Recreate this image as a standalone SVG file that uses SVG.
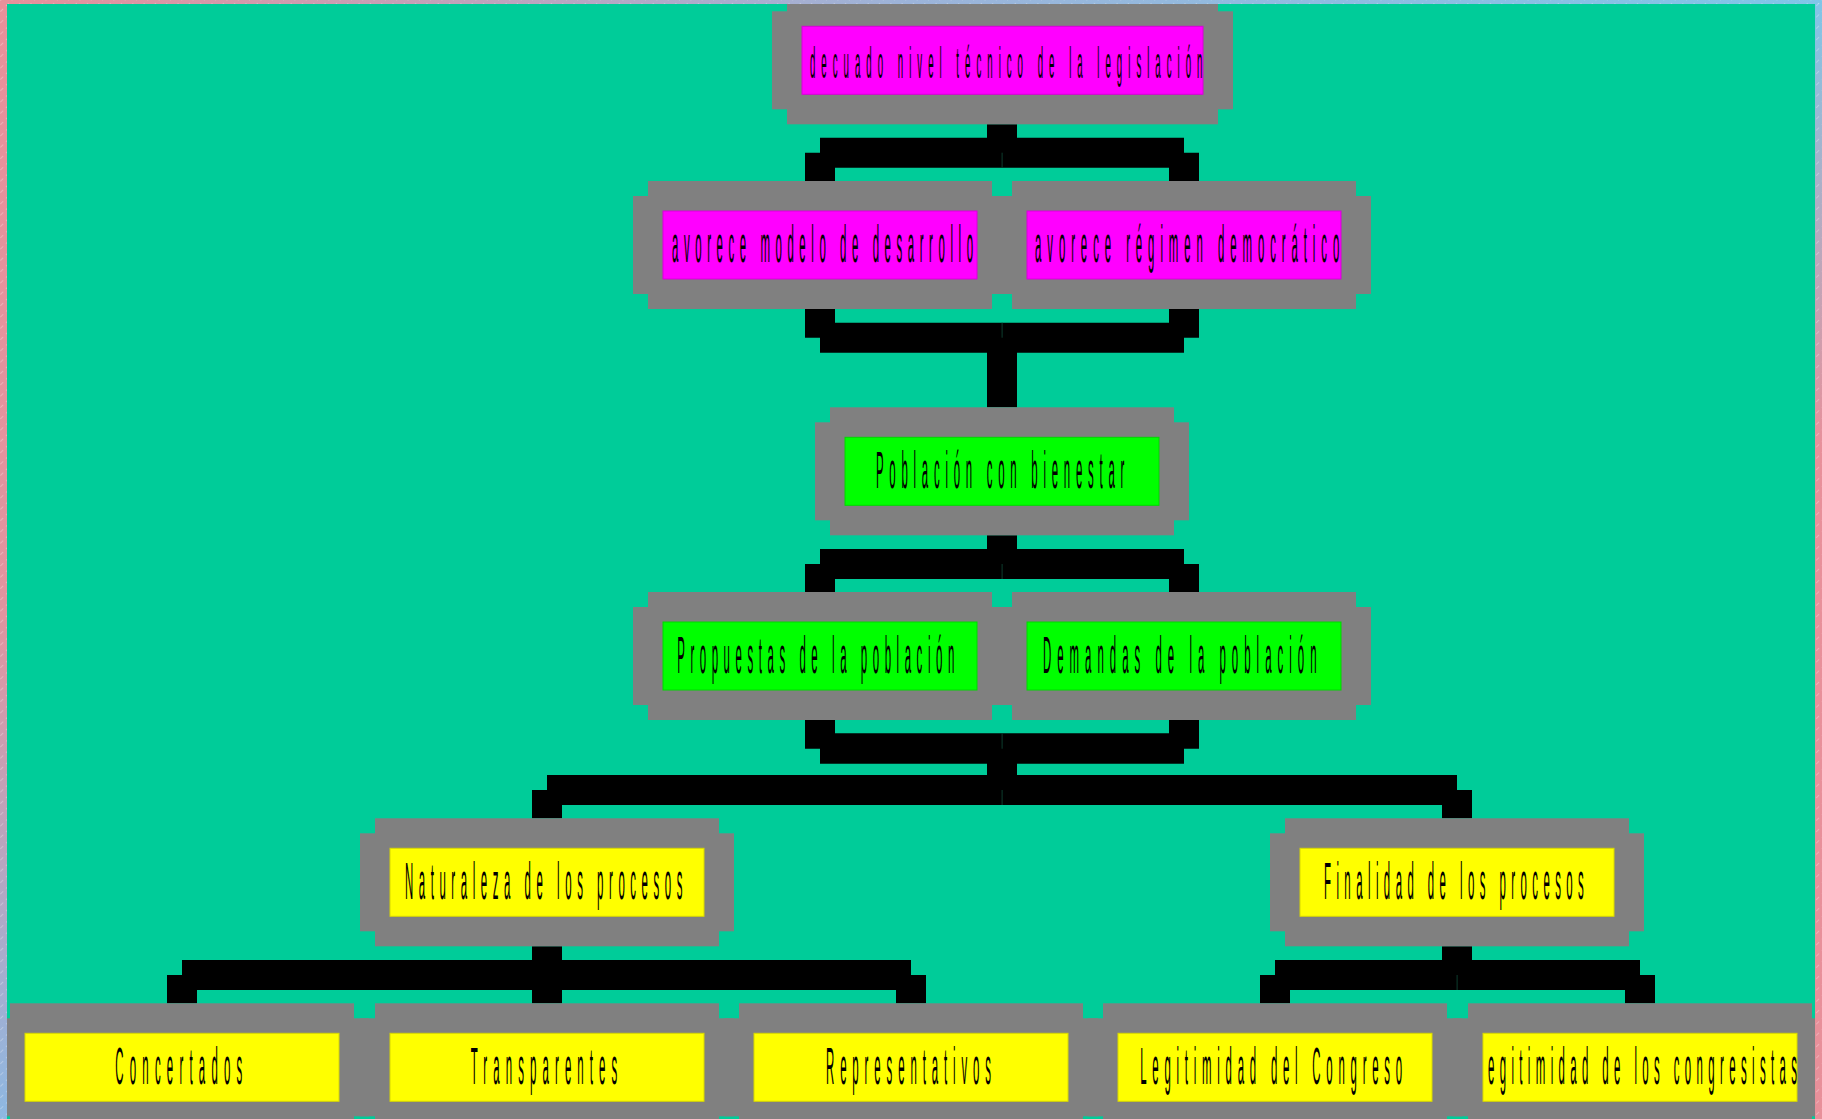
<svg xmlns="http://www.w3.org/2000/svg" width="1822" height="1119" viewBox="0 0 1822 1119">
<defs>
<style>
.body,.ext{fill:#808080}
.mag{fill:#FF00FF;stroke:#D800D8;stroke-width:1}
.grn{fill:#00FF00;stroke:#00D800;stroke-width:1}
.yel{fill:#FFFF00;stroke:#D8D800;stroke-width:1}
.lbl{font-family:"Liberation Sans",Arial,sans-serif;font-weight:normal;font-size:52px;fill:#000}
.conn{fill:#000}
.seam{fill:#0d3d2e}
</style>
<linearGradient id="gTop" x1="0" y1="0" x2="1" y2="0">
<stop offset="0" stop-color="#E8909A"/>
<stop offset="0.5" stop-color="#9CB4DA"/>
<stop offset="1" stop-color="#80C6E8"/>
</linearGradient>
<linearGradient id="gLeft" x1="0" y1="0" x2="0" y2="1">
<stop offset="0" stop-color="#E8909A"/>
<stop offset="0.55" stop-color="#E0949F"/>
<stop offset="1" stop-color="#8DB8E2"/>
</linearGradient>
<linearGradient id="gRight" x1="0" y1="0" x2="0" y2="1">
<stop offset="0" stop-color="#80C6E8"/>
<stop offset="0.4" stop-color="#E8909A"/>
<stop offset="1" stop-color="#E8909A"/>
</linearGradient>
<pattern id="hatch" width="8" height="8" patternUnits="userSpaceOnUse" patternTransform="rotate(-45)">
<rect x="0" y="0" width="4" height="0.8" fill="#ffffff" opacity="0.35"/>
</pattern>
</defs>
<rect x="0" y="0" width="1822" height="1119" fill="#00CC99"/>

<g id="connectors">
<path class="conn" d="M987,124.3 H1017 V137.7 H1184 V152.7 H1199 V181 H1169 V167.7 H835 V181 H805 V152.7 H820 V137.7 H987 Z"/>
<path class="conn" d="M805,309 H835 V322.7 H1169 V309 H1199 V337.7 H1184 V352.7 H1017 V407.3 H987 V352.7 H820 V337.7 H805 Z"/>
<path class="conn" d="M987,535.3 H1017 V549 H1184 V564 H1199 V592 H1169 V579 H835 V592 H805 V564 H820 V549 H987 Z"/>
<path class="conn" d="M805,720 H835 V733.3 H1169 V720 H1199 V748.7 H1184 V763.7 H1017 V775 H1457 V790 H1472 V818.3 H1442 V805 H562 V818.3 H532 V790 H547 V775 H987 V763.7 H820 V748.7 H805 Z"/>
<path class="conn" d="M532,946.3 H562 V960 H911 V975 H926 V1003.3 H896 V990 H562 V1003.3 H532 V990 H197 V1003.3 H167 V975 H182 V960 H532 Z"/>
<path class="conn" d="M1442,946.3 H1472 V960 H1640 V975 H1655 V1003.3 H1625 V990 H1290 V1003.3 H1260 V975 H1275 V960 H1442 Z"/>
<rect class="seam" x="1001.6" y="152.7" width="1" height="15"/>
<rect class="seam" x="1001.6" y="322.7" width="1" height="15"/>
<rect class="seam" x="1001.6" y="564" width="1" height="15"/>
<rect class="seam" x="1001.6" y="733.3" width="1" height="15.4"/>
<rect class="seam" x="1001.6" y="790" width="1" height="15"/>
<rect class="seam" x="1456.6" y="975" width="1" height="15"/>
</g>

<g id="n-adecuado">
<rect class="body" x="787" y="-3.7" width="431" height="128"/>
<rect class="ext" x="772" y="11.3" width="461" height="98"/>
<rect class="mag" x="802" y="26.3" width="401" height="68"/>
<text class="lbl" style="font-size:44px" transform="scale(0.22,1)" x="3681.8" y="78.3" textLength="1784.1" lengthAdjust="spacing">decuado nivel técnico de la legislación</text>
</g>

<g id="n-modelo">
<rect class="body" x="648" y="181" width="344" height="128"/>
<rect class="ext" x="633" y="196" width="374" height="98"/>
<rect class="mag" x="663" y="211" width="314" height="68"/>
<text class="lbl" transform="scale(0.22,1)" x="3054.5" y="262" textLength="1368.2" lengthAdjust="spacing">avorece modelo de desarrollo</text>
</g>

<g id="n-regimen">
<rect class="body" x="1012" y="181" width="344" height="128"/>
<rect class="ext" x="997" y="196" width="374" height="98"/>
<rect class="mag" x="1027" y="211" width="314" height="68"/>
<text class="lbl" transform="scale(0.22,1)" x="4704.5" y="262" textLength="1383.2" lengthAdjust="spacing">avorece régimen democrático</text>
</g>

<g id="n-poblacion">
<rect class="body" x="830" y="407.3" width="344" height="128"/>
<rect class="ext" x="815" y="422.3" width="374" height="98"/>
<rect class="grn" x="845" y="437.3" width="314" height="68"/>
<text class="lbl" transform="scale(0.22,1)" x="3981.8" y="488.3" textLength="1128.6" lengthAdjust="spacing">Población con bienestar</text>
</g>

<g id="n-propuestas">
<rect class="body" x="648" y="592" width="344" height="128"/>
<rect class="ext" x="633" y="607" width="374" height="98"/>
<rect class="grn" x="663" y="622" width="314" height="68"/>
<text class="lbl" transform="scale(0.22,1)" x="3078.2" y="673" textLength="1259.5" lengthAdjust="spacing">Propuestas de la población</text>
</g>

<g id="n-demandas">
<rect class="body" x="1012" y="592" width="344" height="128"/>
<rect class="ext" x="997" y="607" width="374" height="98"/>
<rect class="grn" x="1027" y="622" width="314" height="68"/>
<text class="lbl" transform="scale(0.22,1)" x="4740.5" y="673" textLength="1243.6" lengthAdjust="spacing">Demandas de la población</text>
</g>

<g id="n-naturaleza">
<rect class="body" x="375" y="818.3" width="344" height="128"/>
<rect class="ext" x="360" y="833.3" width="374" height="98"/>
<rect class="yel" x="390" y="848.3" width="314" height="68"/>
<text class="lbl" transform="scale(0.22,1)" x="1840.9" y="899.3" textLength="1260.9" lengthAdjust="spacing">Naturaleza de los procesos</text>
</g>

<g id="n-finalidad">
<rect class="body" x="1285" y="818.3" width="344" height="128"/>
<rect class="ext" x="1270" y="833.3" width="374" height="98"/>
<rect class="yel" x="1300" y="848.3" width="314" height="68"/>
<text class="lbl" transform="scale(0.22,1)" x="6018.2" y="899.3" textLength="1180.9" lengthAdjust="spacing">Finalidad de los procesos</text>
</g>

<g id="n-concertados">
<rect class="body" x="10" y="1003.3" width="344" height="128"/>
<rect class="ext" x="-5" y="1018.3" width="374" height="98"/>
<rect class="yel" x="25" y="1033.3" width="314" height="68"/>
<text class="lbl" transform="scale(0.22,1)" x="524.1" y="1084.3" textLength="577.3" lengthAdjust="spacing">Concertados</text>
</g>

<g id="n-transparentes">
<rect class="body" x="375" y="1003.3" width="344" height="128"/>
<rect class="ext" x="360" y="1018.3" width="374" height="98"/>
<rect class="yel" x="390" y="1033.3" width="314" height="68"/>
<text class="lbl" transform="scale(0.22,1)" x="2139.5" y="1084.3" textLength="666.4" lengthAdjust="spacing">Transparentes</text>
</g>

<g id="n-representativos">
<rect class="body" x="739" y="1003.3" width="344" height="128"/>
<rect class="ext" x="724" y="1018.3" width="374" height="98"/>
<rect class="yel" x="754" y="1033.3" width="314" height="68"/>
<text class="lbl" transform="scale(0.22,1)" x="3754.5" y="1084.3" textLength="750" lengthAdjust="spacing">Representativos</text>
</g>

<g id="n-congreso">
<rect class="body" x="1103" y="1003.3" width="344" height="128"/>
<rect class="ext" x="1088" y="1018.3" width="374" height="98"/>
<rect class="yel" x="1118" y="1033.3" width="314" height="68"/>
<text class="lbl" transform="scale(0.22,1)" x="5182.7" y="1084.3" textLength="1190.9" lengthAdjust="spacing">Legitimidad del Congreso</text>
</g>

<g id="n-congresistas">
<rect class="body" x="1468" y="1003.3" width="344" height="128"/>
<rect class="ext" x="1453" y="1018.3" width="374" height="98"/>
<rect class="yel" x="1483" y="1033.3" width="314" height="68"/>
<text class="lbl" transform="scale(0.22,1)" x="6763.2" y="1084.3" textLength="1405" lengthAdjust="spacing">egitimidad de los congresistas</text>
</g>

<g id="frame">
<rect x="0" y="0" width="1822" height="4" fill="url(#gTop)"/>
<rect x="0" y="0" width="7" height="1119" fill="url(#gLeft)"/>
<rect x="1815" y="0" width="7" height="1119" fill="url(#gRight)"/>
<rect x="0" y="0" width="1822" height="4" fill="url(#hatch)"/>
<rect x="0" y="0" width="7" height="1119" fill="url(#hatch)"/>
<rect x="1815" y="0" width="7" height="1119" fill="url(#hatch)"/>
</g>
</svg>
